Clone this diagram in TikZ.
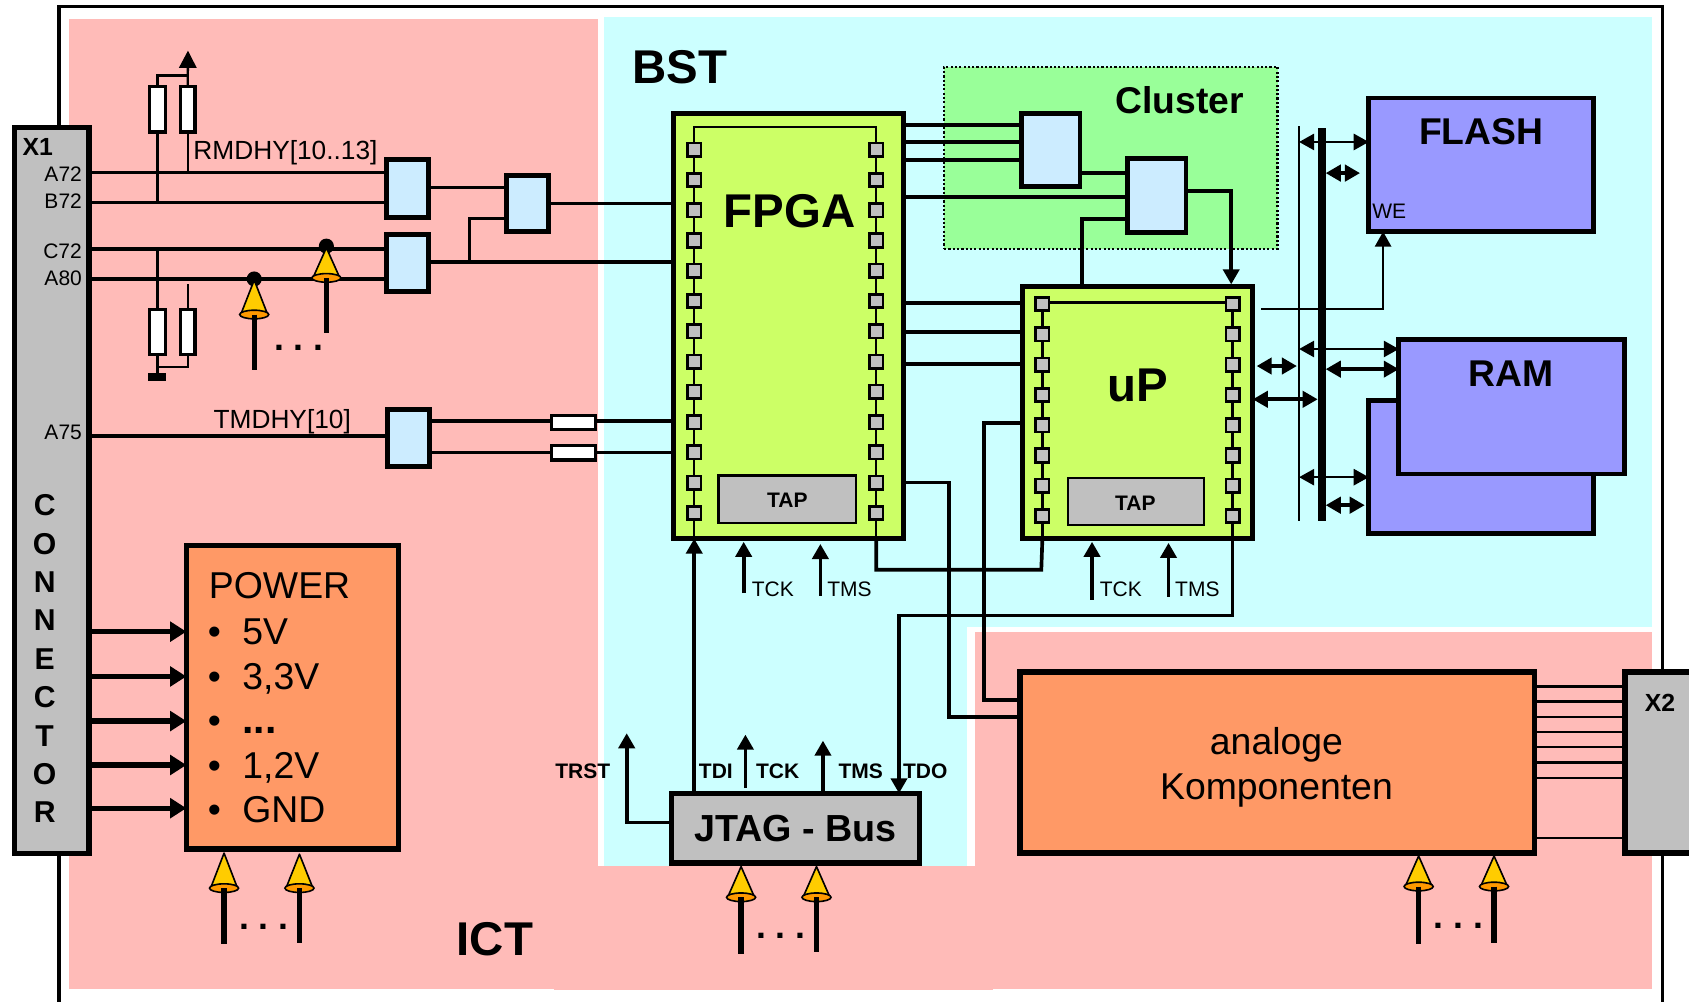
\documentclass[tikz,border=0pt]{standalone}
\usepackage{fontspec}
\setmainfont{Liberation Sans}
\usetikzlibrary{arrows.meta}
\definecolor{pinkict}{HTML}{FFBBB8}
\definecolor{cyanbst}{HTML}{CCFFFF}
\definecolor{greencl}{HTML}{99FF99}
\definecolor{limechip}{HTML}{CCFF66}
\definecolor{lilamem}{HTML}{9999FF}
\definecolor{orangebx}{HTML}{FF9966}
\definecolor{grayc}{HTML}{C0C0C0}
\definecolor{bluebuf}{HTML}{CCECFF}
\definecolor{probey}{HTML}{FFCC00}
\definecolor{probeo}{HTML}{FF9900}
\tikzset{
  blockbase/.style={rectangle,draw=black,inner sep=0pt,outer sep=0pt},
  chipbox/.style={blockbase,fill=limechip,line width=4.5pt},
  bufbox/.style={blockbase,fill=bluebuf,line width=4.5pt},
  resbox/.style={blockbase,fill=white,line width=3pt},
  graybox/.style={blockbase,fill=grayc,line width=5pt},
  tapbox/.style={blockbase,fill=grayc,line width=2pt},
  membox/.style={blockbase,fill=lilamem,line width=4.5pt},
  orbox/.style={blockbase,fill=orangebx,line width=5pt},
  pinbox/.style={blockbase,fill=grayc,line width=2.5pt,minimum size=12.5pt},
  wire/.style={line width=3.4pt,draw=black},
  thinwire/.style={line width=2.2pt,draw=black},
  fatwire/.style={line width=5pt,draw=black},
  >={Triangle[length=14pt,width=15pt]},
  txt/.style={inner sep=0pt,outer sep=0pt,text=black},
  fxl/.style={txt,font=\fontsize{44}{44}\selectfont\bfseries},
  flg/.style={txt,font=\fontsize{34.6}{34.6}\selectfont\bfseries},
  fmd/.style={txt,font=\fontsize{34.7}{34.7}\selectfont},
  fsig/.style={txt,font=\fontsize{24.4}{24.4}\selectfont},
  fpn/.style={txt,font=\fontsize{19.5}{19.5}\selectfont},
  fpb/.style={txt,font=\fontsize{19.5}{19.5}\selectfont\bfseries},
  fxn/.style={txt,font=\fontsize{23}{23}\selectfont\bfseries},
  fcon/.style={txt,font=\fontsize{28}{28}\selectfont\bfseries},
  fdots/.style={txt,anchor=base,font=\fontsize{33}{33}\selectfont\bfseries\frenchspacing},
}
\newcommand\bx[6]{\node[#1,minimum width={(#5-#3)*1pt},minimum height={(#6-#4)*1pt}] (#2) at ({(#3+#5)/2},{(#4+#6)/2}) {};}
\newcommand\hw[4]{\draw[#1] (#2 |- 0,#4) -- (#3 |- 0,#4);}
\newcommand\probe[4]{%
  \draw[line width=1.5pt,fill=probey,line join=round] (#1,#2) -- (#1-12.5,#3) -- (#1+12.5,#3) -- cycle;
  \draw[line width=1.5pt,fill=probeo] (#1,#3) ellipse [x radius=13.5, y radius=4];
  \draw[line width=5pt] (#1,#3) -- (#1,#4);}
\begin{document}
\begin{tikzpicture}[x=1pt,y=-1pt]
\path[use as bounding box,clip] (0,0) rectangle (1568,930.2);
\fill[white] (0,0) rectangle (1568,930.2);
% regions
\fill[pinkict] (64,18) rectangle (555,918);
\fill[pinkict] (64,803.6) rectangle (1534,918);
\fill[pinkict] (514,803.6) rectangle (922,919.5);
\fill[pinkict] (905.5,587) rectangle (1534,918);
\fill[cyanbst] (560.5,16) rectangle (1534,582);
\fill[cyanbst] (560.5,16) rectangle (898,803.6);
% frame
\draw[line width=3.4pt] (55,935) -- (55,6) -- (1543.5,6) -- (1543.5,935);
% cluster
\bx{blockbase,fill=greencl,line width=2pt,dash pattern=on 2pt off 2pt}{cluster}{876.5}{62}{1186}{231}
% boxes
\bx{graybox}{xone}{13.5}{118.5}{82.5}{792.5}
\bx{graybox}{xtwo}{1508.5}{624}{1590}{792}
\bx{orbox}{power}{173}{506.5}{370}{788}
\bx{orbox}{analog}{947}{624}{1424.5}{792}
\bx{graybox}{jtag}{623.5}{736.5}{853.5}{801}
\bx{chipbox}{fpga}{625}{105}{839}{500}
\bx{chipbox}{up}{949}{266}{1163}{500}
\bx{tapbox}{tapa}{667}{441.5}{794.6}{485.8}
\bx{tapbox}{tapb}{991.3}{444}{1118}{487.7}
\bx{bufbox}{bufa}{359}{148}{398}{202}
\bx{bufbox}{bufb}{359}{218}{398}{271}
\bx{bufbox}{bufc}{470}{163}{509}{215}
\bx{bufbox}{bufd}{360}{380}{399}{433}
\bx{bufbox}{clua}{948}{105}{1002.6}{173.5}
\bx{bufbox}{club}{1046.6}{147.5}{1101}{216}
\bx{membox}{flash}{1270.7}{91}{1479.6}{215}
\bx{membox}{ramb}{1270.7}{371.7}{1479.6}{495.6}
\bx{membox}{ramf}{1298.6}{315.5}{1508}{440}
\bx{resbox}{ra}{139}{80}{153.5}{122.5}
\bx{resbox}{rb}{167.5}{80}{181}{122.5}
\bx{resbox}{rc}{139}{287}{153.5}{329}
\bx{resbox}{rd}{167.5}{287}{181}{329}
\bx{resbox}{re}{512}{385.5}{553}{399}
\bx{resbox}{rf}{512}{413.5}{553}{427}
\bx{blockbase,fill=black,draw=none}{gnd}{137}{346.5}{154}{353.5}
\bx{blockbase,fill=black,draw=none}{busa}{1223.3}{118.5}{1230.7}{483.4}
\bx{blockbase,fill=black,draw=none}{busb}{1205}{117}{1207}{483.4}
% chip internal scan chains
\coordinate (fplb) at (fpga.south -| 644.5,0);
\coordinate (fprb) at (fpga.south -| 813.5,0);
\coordinate (uplb) at (up.south -| 967.7,0);
\coordinate (uprb) at (up.south -| 1144.3,0);
\draw[thinwire] (fplb) -- (644.5,118) -- (813.5,118) -- (fprb);
\draw[thinwire] (uplb) -- (967.7,281) -- (1144.3,281) -- (uprb);
\foreach \i in {0,...,12} {
  \node[pinbox] (fl\i) at (644.5,{139+28.1*\i}) {};
  \node[pinbox] (fr\i) at (813.5,{139+28.1*\i}) {};
}
\foreach \i in {0,...,7} {
  \node[pinbox] (ul\i) at (967.7,{282.3+28.1*\i}) {};
  \node[pinbox] (ur\i) at (1144.3,{282.3+28.1*\i}) {};
}
% left wires
\hw{wire}{xone.east}{bufa.west}{160}
\hw{wire}{xone.east}{bufa.west}{188}
\hw{wire}{xone.east}{bufb.west}{231}
\hw{wire}{xone.east}{bufb.west}{259}
\hw{wire}{xone.east}{bufd.west}{405}
\hw{wire}{bufa.east}{bufc.west}{174}
\hw{wire}{bufc.east}{fpga.west}{189}
\hw{wire}{bufb.east}{fpga.west}{243}
\draw[wire] (bufb.east |- 0,243) ++(38,0) -- ++(0,-40) -- (bufc.west |- 0,203);
\hw{wire}{bufd.east}{re.west}{391}
\hw{wire}{bufd.east}{rf.west}{420}
\hw{wire}{re.east}{fpga.west}{391}
\hw{wire}{rf.east}{fpga.west}{420}
% resistors
\coordinate (vcc) at (174.5,47);
\draw[thinwire,-{Triangle[length=16pt,width=16pt]}] (rb.north) -- (vcc);
\draw[thinwire] (ra.north) -- (146.25,70) -- (174.25,70);
\draw[thinwire] (ra.south) -- (146.25,188);
\draw[thinwire] (rb.south) -- (174.25,160);
\draw[thinwire] (rc.north) -- (146.25,231);
\draw[thinwire] (rd.north) -- (174.25,264);
\draw[thinwire] (rc.south) -- (gnd.north -| rc.south);
\draw[thinwire] (rd.south) -- (174.25,340.5) -- (146.25,340.5);
% FPGA to cluster/uP
\hw{wire}{fpga.east}{clua.west}{116}
\hw{wire}{fpga.east}{clua.west}{132}
\hw{wire}{fpga.east}{clua.west}{148.5}
\hw{wire}{fpga.east}{club.west}{182.6}
\hw{wire}{clua.east}{club.west}{160.7}
\draw[wire,->] (club.east |- 0,177.3) -- (1143,177.3) -- (1143,264);
\draw[wire] (club.west |- 0,203.5) -- (1004.5,203.5) -- (1004.5,264);
\hw{wire}{fpga.east}{up.west}{281.5}
\hw{wire}{fpga.east}{up.west}{308}
\hw{wire}{fpga.east}{up.west}{338}
\draw[wire] (up.west |- 0,392.6) -- (913.7,392.6) -- (913.7,650) -- (analog.west |- 0,650);
\draw[wire] (fpga.east |- 0,448) -- (881,448) -- (881,665.7) -- (analog.west |- 0,665.7);
\draw[wire] (fprb) -- (813.5,529) -- (966.7,529) -- (uplb);
\draw[wire,->] (uprb) -- (1144.3,571.4) -- (834.6,571.4) -- (jtag.north -| 834.6,0);
% test arrows
\draw[wire,->] (jtag.north -| fplb) -- (fplb);
\coordinate (tcka) at (690.4,550.6);
\coordinate (tmsa) at (761.6,553);
\coordinate (tckb) at (1013.8,557);
\coordinate (tmsb) at (1084.8,554);
\draw[wire,->] (tcka) -- (690.4,503);
\draw[wire,->] (tmsa) -- (761.6,505);
\draw[wire,->] (tckb) -- (1013.8,503);
\draw[wire,->] (tmsb) -- (1084.8,504);
\draw[wire,->] (jtag.west |- 0,763.7) -- (581.8,763.7) -- (581.8,680.7);
\coordinate (tckj) at (692,731.7);
\draw[wire,->] (tckj) -- (692,682);
\draw[wire,->] (jtag.north -| 764,0) -- (764,687.6);
% memory bus
\hw{thinwire,<->}{busb.center}{flash.west}{131.8}
\hw{line width=4pt,<->}{busa.east}{1262.6,0}{160.7}
\hw{thinwire,<->}{busb.center}{ramf.west}{324}
\hw{wire,<->}{busa.east}{ramf.west}{342.7}
\draw[line width=4pt,<->] (1166.6,339.8) -- (1204,339.8);
\hw{wire,<->}{up.east}{busa.west}{370.7}
\hw{thinwire,<->}{busb.center}{ramb.west}{443}
\hw{line width=4pt,<->}{busa.east}{1267,0}{469}
\coordinate (westart) at (1171,287);
\draw[thinwire,->] (westart) -- (1284,287) -- (flash.south -| 1284,0);
% power arrows
\foreach \y/\n in {586.4/a,628/b,669.4/c,710.2/d,750.3/e} {
  \draw[fatwire,-{Triangle[length=15pt,width=18pt]}] (xone.east |- 0,\y) -- (power.west |- 0,\y);
}
% analog to X2
\foreach \y in {637.4,651.4,665.9,679.8,693.5,708,722.3,778} {
  \draw[thinwire] (analog.east |- 0,\y) -- (xtwo.west |- 0,\y);
}
% probes
\fill (236,259) circle (7);
\fill (303,228.5) circle (7);
\probe{236}{260}{292}{343.5}
\probe{303}{230}{258}{309.5}
\probe{208}{792}{824.5}{876.7}
\probe{278}{793}{824.5}{875}
\probe{688}{804.5}{833}{885.8}
\probe{758}{804.5}{833}{884}
\probe{1317}{794.7}{823}{876.5}
\probe{1387}{794.7}{823}{875}
% dots
\node[fdots] (dotsa) at (277.5,325.5) {. . .};
\node[fdots] (dotsb) at (245,862.5) {. . .};
\node[fdots] (dotsc) at (725,871.5) {. . .};
\node[fdots] (dotsd) at (1354,862) {. . .};
% labels
\node[fxl] (lbst) at (631,62.5) {BST};
\node[fxl] (lict) at (459.5,871.5) {ICT};
\node[fxl] (lfpga) at (733,196) {FPGA};
\node[fxl] (lup) at (1056,358) {uP};
\node[flg] (lclu) at (1095,93) {Cluster};
\node[flg] (lflash) at (1375,122.5) {FLASH};
\node[flg] (lram) at (1403,347) {RAM};
\node[flg,font=\fontsize{35}{35}\selectfont\bfseries] (ljtag) at (738.5,769.5) {JTAG - Bus};
\node[fmd,anchor=base] (lana) at (1185,700) {analoge};
\node[fmd,anchor=base] (lkom) at (1185,742) {Komponenten};
\node[fsig,anchor=base] (lrm) at (265,148.5) {RMDHY[10..13]};
\node[fsig,anchor=base] (ltm) at (262,398) {TMDHY[10]};
\node[fxn] (lxa) at (35,136.5) {X1};
\node[fxn] (lxb) at (1541,652.5) {X2};
\node[fpn,anchor=east] (pa) at (76,162) {A72};
\node[fpn,anchor=east] (pb) at (76,187) {B72};
\node[fpn,anchor=east] (pc) at (76,233) {C72};
\node[fpn,anchor=east] (pd) at (76,258) {A80};
\node[fpn,anchor=east] (pe) at (76,401) {A75};
\foreach \c/\y/\n in {C/469/a,O/505/b,N/540/c,N/576/d,E/612/e,C/647/f,T/683/g,O/718.5/h,R/754/i} {
  \node[fcon] (con\n) at (41.5,\y) {\c};
}
\node[fpb] (ltapa) at (731,464) {TAP};
\node[fpb] (ltapb) at (1054,467) {TAP};
\node[fpn,anchor=west] (ltcka) at (698,547) {TCK};
\node[fpn,anchor=west] (ltmsa) at (768,547) {TMS};
\node[fpn,anchor=west] (ltckb) at (1021,547) {TCK};
\node[fpn,anchor=west] (ltmsb) at (1091,547) {TMS};
\node[fpn,anchor=west] (lwe) at (1274,196) {WE};
\node[fpb] (ltrst) at (541,716) {TRST};
\node[fpb] (ltdi) at (664.6,716) {TDI};
\node[fpb] (ltckj) at (722,716) {TCK};
\node[fpb] (ltmsj) at (799,716) {TMS};
\node[fpb] (ltdo) at (859,716) {TDO};
\node[fmd,anchor=base west] (lpw) at (194,556) {POWER};
\node[fmd,anchor=base west] (lp1) at (193,598) {\makebox[32pt][l]{•}5V};
\node[fmd,anchor=base west] (lp2) at (193,640) {\makebox[32pt][l]{•}3,3V};
\node[fmd,anchor=base west] (lp3) at (193,681) {\makebox[32pt][l]{•}{\fontsize{38}{38}\selectfont\bfseries ...}};
\node[fmd,anchor=base west] (lp4) at (193,723) {\makebox[32pt][l]{•}1,2V};
\node[fmd,anchor=base west] (lp5) at (193,764) {\makebox[32pt][l]{•}GND};
\end{tikzpicture}
\end{document}
